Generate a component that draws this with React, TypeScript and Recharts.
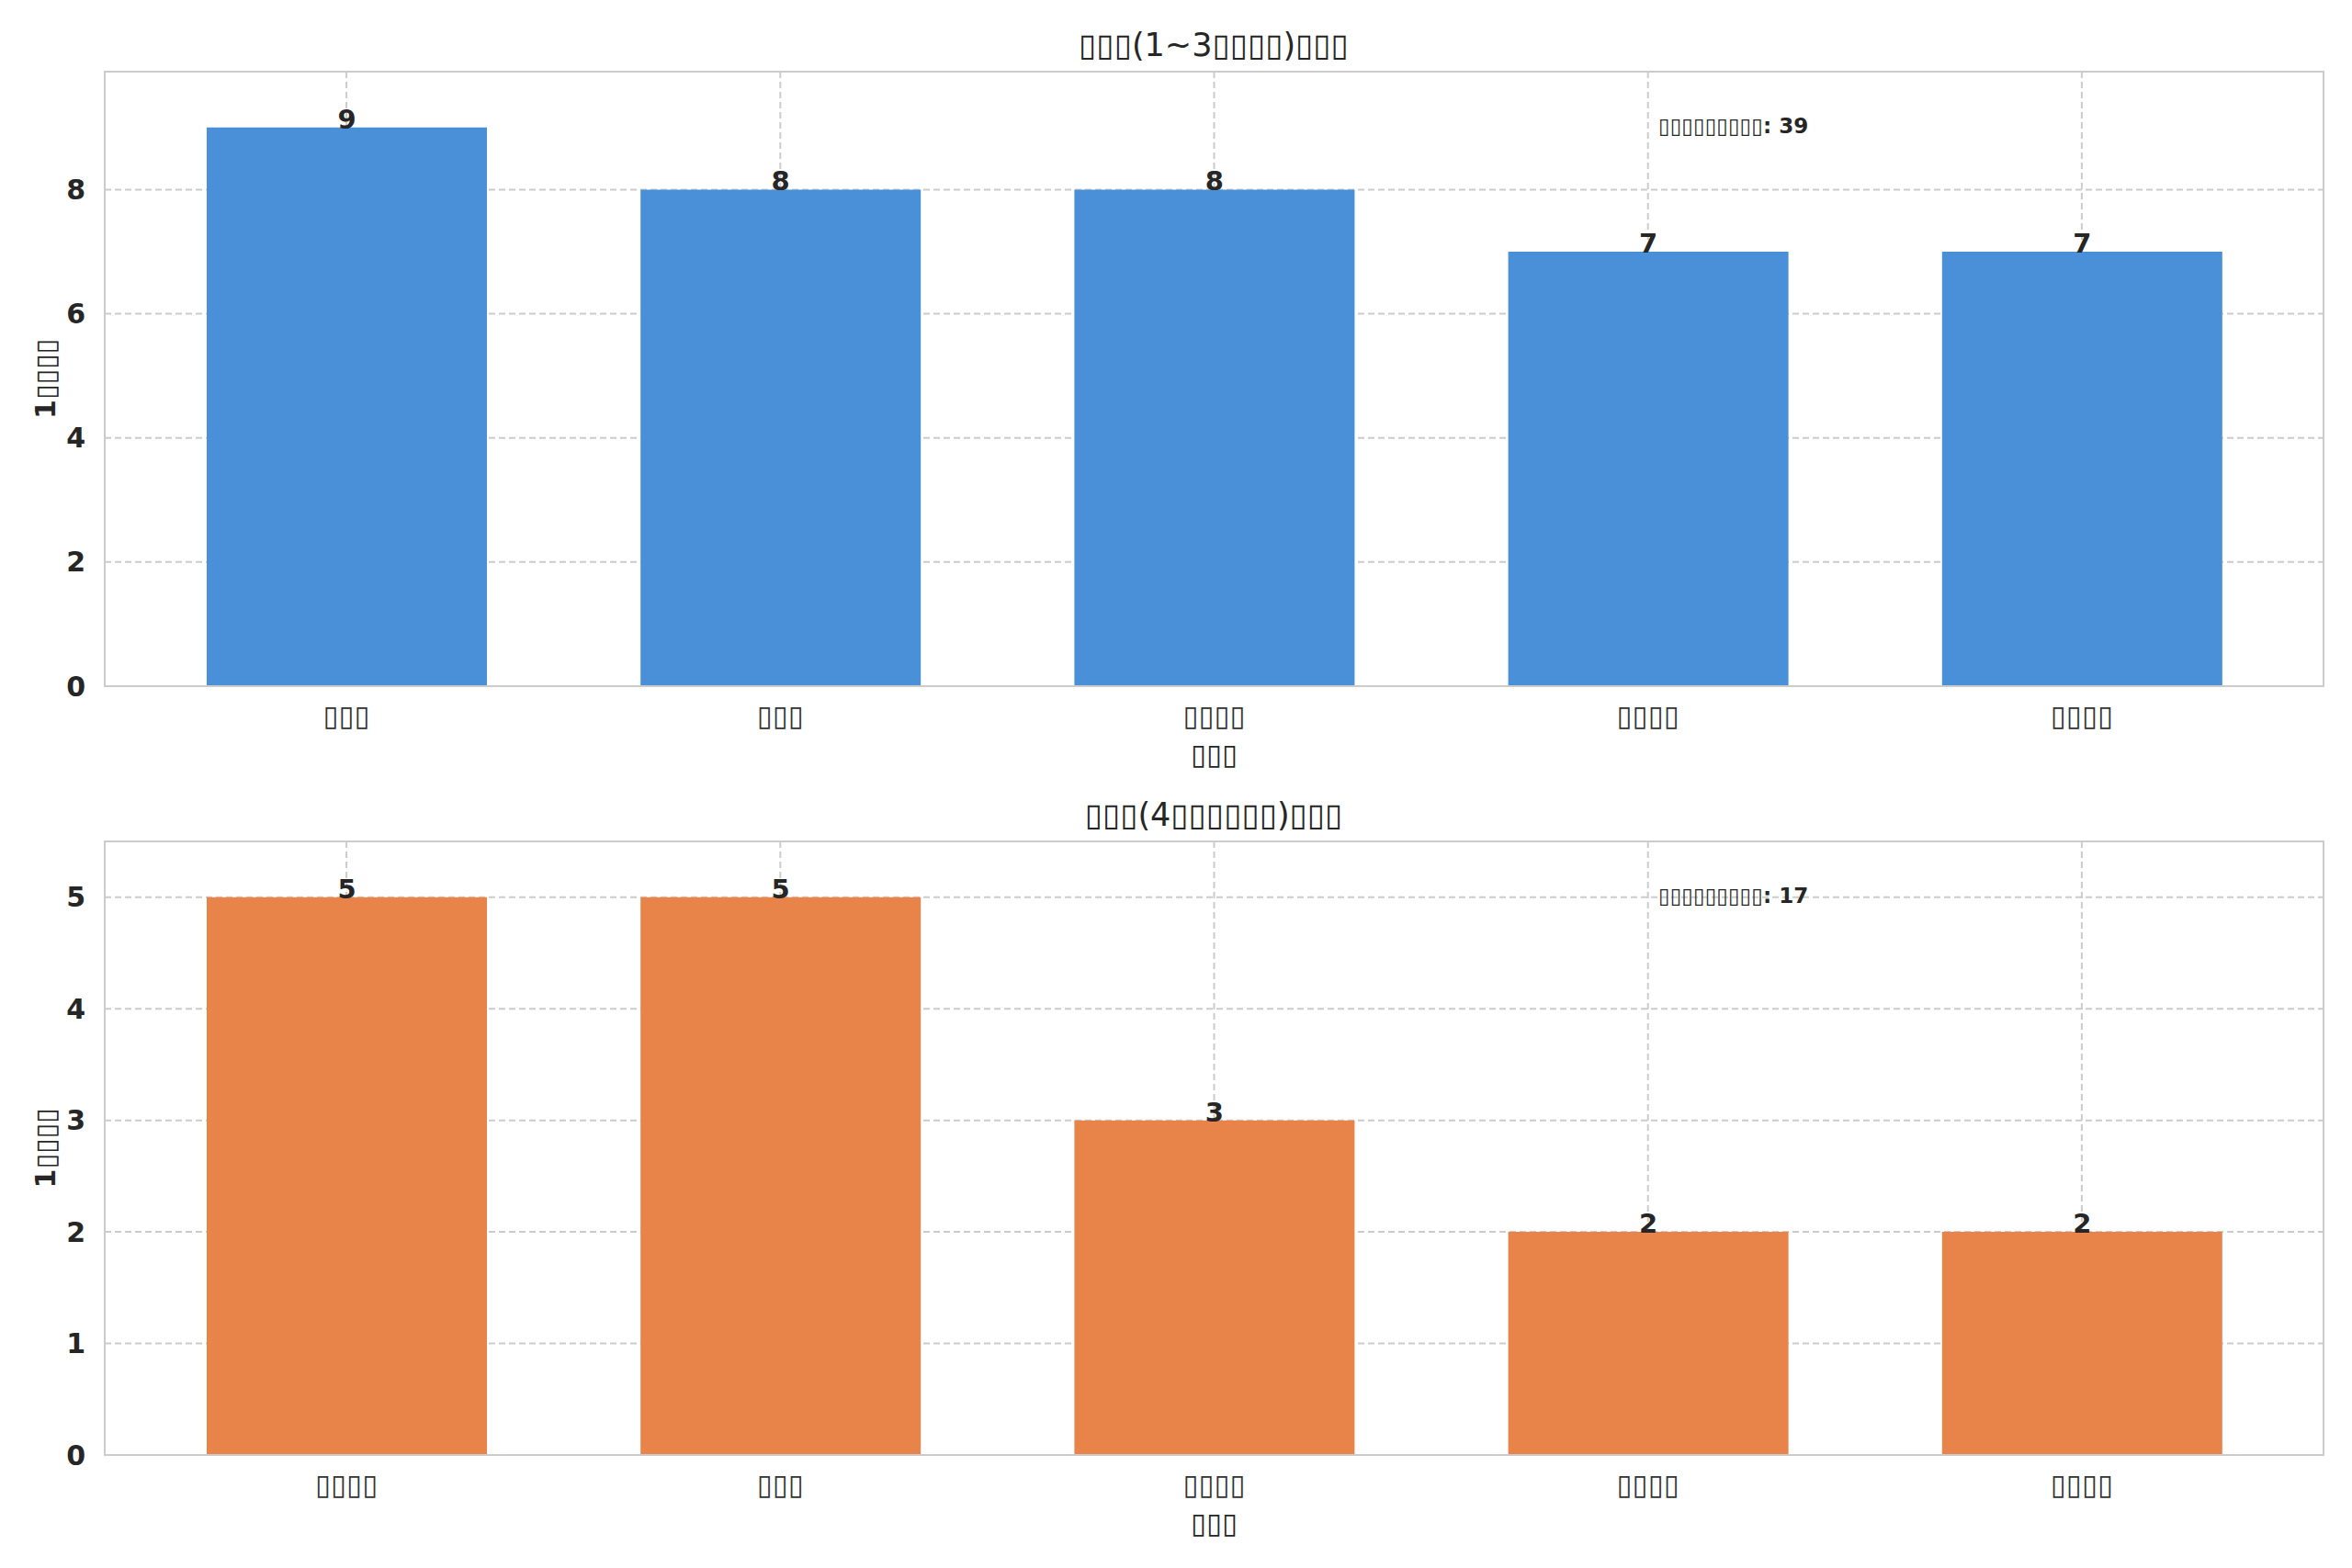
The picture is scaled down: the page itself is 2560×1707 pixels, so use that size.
import React from "react";
import { BarChart, Bar, XAxis, YAxis, CartesianGrid, LabelList } from "recharts";

// glyphs the original render could not draw show as boxes
const topTitle = "▯▯▯(1~3▯▯▯▯)▯▯▯";
const bottomTitle = "▯▯▯(4▯▯▯▯▯▯)▯▯▯";
const yLabel = "1▯▯▯▯";
const xLabel = "▯▯▯";
const totalLabel = "▯▯▯▯▯▯▯▯▯";

const topCategories = ["▯▯▯", "▯▯▯", "▯▯▯▯", "▯▯▯▯", "▯▯▯▯"];
const topValues = [9, 8, 8, 7, 7];
const topTicks = [0, 2, 4, 6, 8];

const bottomCategories = ["▯▯▯▯", "▯▯▯", "▯▯▯▯", "▯▯▯▯", "▯▯▯▯"];
const bottomValues = [5, 5, 3, 2, 2];
const bottomTicks = [0, 1, 2, 3, 4, 5];

const FONT = "'DejaVu Sans', sans-serif";
const INK = "#262626";
const GRID = "#cccccc";
const PLOT_LEFT = 114;
const PLOT_RIGHT = 31;

interface PanelProps {
  categories: string[];
  values: number[];
  ticks: number[];
  yMax: number;
  color: string;
  title: string;
  top: number;
  height: number;
  plotTop: number;
  plotBottom: number;
}

function Panel({ categories, values, ticks, yMax, color, title, top, height, plotTop, plotBottom }: PanelProps) {
  const data = categories.map((name, i) => ({ name, value: values[i] }));
  const total = values.reduce((a, b) => a + b, 0);
  const xAxisHeight = height - plotBottom;
  return (
    <div style={{ position: "absolute", left: 0, top, width: 2560, height }}>
      <BarChart
        width={2560}
        height={height}
        data={data}
        margin={{ top: plotTop, right: PLOT_RIGHT, left: 0, bottom: 0 }}
        barSize={305}
      >
        <CartesianGrid stroke={GRID} strokeWidth={2} strokeDasharray="7 4" />
        <XAxis
          dataKey="name"
          height={xAxisHeight}
          padding={{ left: 27, right: 27 }}
          tickSize={0}
          tickMargin={21}
          axisLine={false}
          tick={{ fill: "#333333", fontSize: 31, fontFamily: FONT }}
          label={{
            content: ({ viewBox }: any) => (
              <text
                x={viewBox.x + viewBox.width / 2}
                y={viewBox.y + 74}
                textAnchor="middle"
                dominantBaseline="central"
                fontSize={31}
                fontFamily={FONT}
                fill={INK}
              >
                {xLabel}
              </text>
            ),
          }}
        />
        <YAxis
          width={PLOT_LEFT}
          domain={[0, yMax]}
          ticks={ticks}
          tickSize={0}
          tickMargin={21}
          axisLine={false}
          tick={{ fill: INK, fontSize: 30, fontWeight: "bold", fontFamily: FONT }}
          label={{
            content: ({ viewBox }: any) => {
              const cx = 49;
              const cy = viewBox.y + viewBox.height / 2;
              return (
                <text
                  x={cx}
                  y={cy}
                  textAnchor="middle"
                  dominantBaseline="central"
                  transform={`rotate(-90 ${cx} ${cy})`}
                  fontSize={30}
                  fontWeight="bold"
                  fontFamily={FONT}
                  fill={INK}
                >
                  {yLabel}
                </text>
              );
            },
          }}
        />
        <Bar dataKey="value" fill={color} isAnimationActive={false}>
          <LabelList
            dataKey="value"
            position="top"
            offset={-1}
            fill={INK}
            fontSize={29}
            fontWeight="bold"
            fontFamily={FONT}
          />
        </Bar>
      </BarChart>
      {/* axes frame */}
      <div
        style={{
          position: "absolute",
          left: PLOT_LEFT - 1.25,
          top: plotTop - 1.25,
          width: 2560 - PLOT_LEFT - PLOT_RIGHT + 2.5,
          height: plotBottom - plotTop + 2.5,
          border: `2.5px solid ${GRID}`,
          boxSizing: "border-box",
          pointerEvents: "none",
        }}
      />
      <div
        style={{
          position: "absolute",
          left: 0,
          width: 2560,
          top: plotTop - 58,
          height: 58,
          lineHeight: "58px",
          textAlign: "center",
          paddingLeft: 82,
          boxSizing: "border-box",
          fontFamily: FONT,
          fontSize: 35,
          color: INK,
        }}
      >
        {title}
      </div>
      <div
        style={{
          position: "absolute",
          left: 1805,
          top: plotTop + 59 - 15,
          height: 30,
          lineHeight: "30px",
          fontFamily: FONT,
          fontSize: 23,
          fontWeight: "bold",
          color: INK,
          whiteSpace: "nowrap",
        }}
      >
        {totalLabel}: {total}
      </div>
    </div>
  );
}

export default function App() {
  return (
    <div style={{ position: "absolute", left: 0, top: 0, width: 2560, height: 1707, background: "#ffffff" }}>
      <Panel
        categories={topCategories}
        values={topValues}
        ticks={topTicks}
        yMax={9.9}
        color="#4a90d9"
        title={topTitle}
        top={0}
        height={853}
        plotTop={78}
        plotBottom={747}
      />
      <Panel
        categories={bottomCategories}
        values={bottomValues}
        ticks={bottomTicks}
        yMax={5.5}
        color="#e8844a"
        title={bottomTitle}
        top={853}
        height={854}
        plotTop={63}
        plotBottom={731}
      />
    </div>
  );
}
